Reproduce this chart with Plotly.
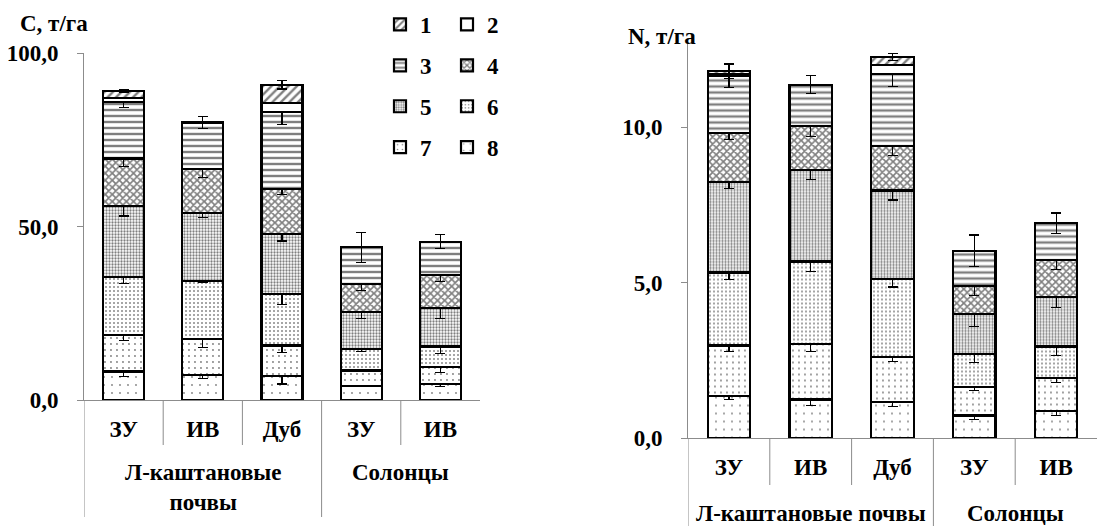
import plotly.graph_objects as go

# ---------------- data ----------------
categories = ["ЗУ", "ИВ", "Дуб", "ЗУ", "ИВ"]
groups = ["Л-каштановые почвы", "Солонцы"]
group_sizes = [3, 2]
layer_names = ["8", "7", "6", "5", "4", "3", "2", "1"]  # bottom -> top

# C, t/ha (segment heights, bottom -> top)
c_layer8 = [8.2, 7.3, 7.0, 4.1, 4.6]
c_layer7 = [10.6, 10.2, 8.7, 4.4, 4.8]
c_layer6 = [16.6, 16.7, 14.8, 6.2, 6.0]
c_layer5 = [20.5, 19.8, 17.4, 10.6, 11.1]
c_layer4 = [13.7, 12.6, 12.8, 8.2, 9.6]
c_layer3 = [16.3, 13.4, 22.2, 10.5, 9.5]
c_layer2 = [1.2, 0, 2.7, 0, 0]
c_layer1 = [1.9, 0, 5.2, 0, 0]

c_err8 = [1.5, 1.2, 2.4, 0.2, 0.7]
c_err7 = [1.7, 2.3, 1.9, 0.3, 1.4]
c_err6 = [1.9, 0.4, 3.0, 0.8, 1.9]
c_err5 = [2.9, 1.5, 2.1, 1.9, 3.1]
c_err4 = [2.2, 2.4, 1.5, 1.9, 1.9]
c_err3 = [1.6, 1.7, 3.4, 4.3, 2.0]
c_err2 = [0, 0, 0, 0, 0]
c_err1 = [0.4, 0, 1.2, 0, 0]

# N, t/ha
n_layer8 = [1.36, 1.25, 1.16, 0.73, 0.88]
n_layer7 = [1.62, 1.78, 1.46, 0.93, 1.05]
n_layer6 = [2.35, 2.65, 2.49, 1.05, 1.02]
n_layer5 = [2.90, 2.95, 2.85, 1.29, 1.58]
n_layer4 = [1.58, 1.41, 1.42, 0.90, 1.20]
n_layer3 = [1.84, 1.32, 2.33, 1.12, 1.18]
n_layer2 = [0.06, 0, 0.29, 0, 0]
n_layer1 = [0.08, 0, 0.25, 0, 0]

n_err8 = [0.11, 0.19, 0.13, 0.13, 0.16]
n_err7 = [0.18, 0.24, 0.16, 0.13, 0.14]
n_err6 = [0.24, 0.33, 0.25, 0.28, 0.29]
n_err5 = [0.20, 0.32, 0.30, 0.40, 0.33]
n_err4 = [0.21, 0.35, 0.30, 0.30, 0.30]
n_err3 = [0.38, 0.29, 0.40, 0.51, 0.33]
n_err2 = [0, 0, 0, 0, 0]
n_err1 = [0.24, 0, 0.11, 0, 0]

c_layers = [c_layer8, c_layer7, c_layer6, c_layer5, c_layer4, c_layer3, c_layer2, c_layer1]
c_errs = [c_err8, c_err7, c_err6, c_err5, c_err4, c_err3, c_err2, c_err1]
n_layers = [n_layer8, n_layer7, n_layer6, n_layer5, n_layer4, n_layer3, n_layer2, n_layer1]
n_errs = [n_err8, n_err7, n_err6, n_err5, n_err4, n_err3, n_err2, n_err1]

# ---------------- styles ----------------
FONT = "Liberation Serif"
FS = 23
AXC = "#8c8c8c"
# the page body adds an 8px margin, so the figure is 8px smaller and
# all target positions below are given in page pixels minus 8
OFF = 8
W, H = 1110 - OFF, 526 - OFF


def px(xv):
    return (xv - OFF) / W


def py(yv):
    return (H - (yv - OFF)) / H


patterns = {
    "8": dict(shape=".", size=8, solidity=0.04),
    "7": dict(shape=".", size=6, solidity=0.08),
    "6": dict(shape=".", size=4, solidity=0.17),
    "5": dict(shape=".", size=3, solidity=0.45),
    "4": dict(shape="x", size=5, solidity=0.55),
    "3": dict(shape="-", size=6, solidity=0.4),
    "2": dict(shape="", size=8, solidity=0.2),
    "1": dict(shape="/", size=6, solidity=0.4),
}

xs = list(range(len(categories)))
fig = go.Figure()


def add_stack(layers, errs, xa, ya, show):
    for name, vals, er in zip(layer_names, layers, errs):
        p = patterns[name]
        fig.add_trace(go.Bar(
            x=xs, y=vals, name=name, xaxis=xa, yaxis=ya,
            legend="legend" if int(name) % 2 == 1 else "legend2",
            legendrank=int(name), legendgroup=name, showlegend=show,
            marker=dict(color="white",
                        line=dict(color="black", width=2.2),
                        pattern=dict(shape=p["shape"], size=p["size"], solidity=p["solidity"],
                                     fgcolor="black", bgcolor="white", fillmode="overlay")),
            error_y=dict(type="data", array=er, visible=True, color="black", thickness=1.2, width=5),
        ))


add_stack(c_layers, c_errs, "x", "y", True)
add_stack(n_layers, n_errs, "x2", "y2", False)

# ---------------- geometry ----------------
L_dom_x = [px(84), px(480)]
R_dom_x = [px(688), px(1097)]
L_dom_y = [py(400), py(53)]
R_dom_y = [py(438.3), py(41.5)]

TXT_FONT = dict(family=FONT, size=FS, color="black", weight="bold")
axis_common = dict(showgrid=False, zeroline=False, linecolor=AXC, linewidth=1, showline=True,
                   automargin=False, tickfont=TXT_FONT)

fig.update_layout(
    width=W, height=H, barmode="stack", bargap=0.48,
    plot_bgcolor="white", paper_bgcolor="white",
    margin=dict(l=0, r=0, t=0, b=0, autoexpand=False),
    separators=", ",
    font=TXT_FONT,
    xaxis=dict(domain=L_dom_x, range=[-0.5, len(xs) - 0.5], tickvals=xs, ticktext=categories,
               ticks="", ticklabelstandoff=8, anchor="y", **axis_common),
    yaxis=dict(domain=L_dom_y, range=[0, 100], dtick=50, tickformat=".1f", ticks="outside",
               ticklen=6, tickcolor=AXC, ticklabelstandoff=14, anchor="x", **axis_common),
    xaxis2=dict(domain=R_dom_x, range=[-0.5, len(xs) - 0.5], tickvals=xs, ticktext=categories,
                ticks="", ticklabelstandoff=8, anchor="y2", **axis_common),
    yaxis2=dict(domain=R_dom_y, range=[0, 12.75], dtick=5, tickformat=".1f", ticks="outside",
                ticklen=6, tickcolor=AXC, ticklabelstandoff=14, anchor="x2", **axis_common),
    legend=dict(x=372 / W, y=1 + 5 / H, xanchor="left", yanchor="top", bgcolor="rgba(0,0,0,0)",
                font=TXT_FONT, tracegroupgap=8, traceorder="grouped"),
    legend2=dict(x=439 / W, y=1 + 5 / H, xanchor="left", yanchor="top", bgcolor="rgba(0,0,0,0)",
                 font=TXT_FONT, tracegroupgap=8, traceorder="grouped"),
)

# ---------------- category dividers and group labels ----------------
shapes = []
annotations = []
bounds = [0]
for g in group_sizes:
    bounds.append(bounds[-1] + g)


def add_dividers(xref, ybot, inner_low, outer_low):
    for i in range(len(xs)):
        low = outer_low if i in bounds else inner_low
        shapes.append(dict(type="line", xref=xref, yref="paper", x0=i - 0.5, x1=i - 0.5,
                           y0=ybot, y1=low, line=dict(color=AXC, width=1)))


add_dividers("x", L_dom_y[0], py(445), py(517))
add_dividers("x2", R_dom_y[0], py(485), 0)

for gi, gname in enumerate(groups):
    center = (bounds[gi] + bounds[gi + 1] - 1) / 2
    left_text = gname.replace(" ", "<br>") if gi == 0 else gname
    left_y = py(487) if gi == 0 else py(472)
    annotations.append(dict(text=left_text, xref="x", yref="paper", x=center, y=left_y,
                            xanchor="center", yanchor="middle", showarrow=False, font=TXT_FONT))
    annotations.append(dict(text=gname, xref="x2", yref="paper", x=center, y=py(513),
                            xanchor="center", yanchor="middle", showarrow=False, font=TXT_FONT))

annotations.append(dict(text="C, т/га", xref="paper", yref="paper", x=px(18), y=py(23),
                        xanchor="left", yanchor="middle", showarrow=False, font=TXT_FONT))
annotations.append(dict(text="N, т/га", xref="paper", yref="paper", x=px(626), y=py(36),
                        xanchor="left", yanchor="middle", showarrow=False, font=TXT_FONT))

fig.update_layout(shapes=shapes, annotations=annotations)
fig.write_html("out.html")
